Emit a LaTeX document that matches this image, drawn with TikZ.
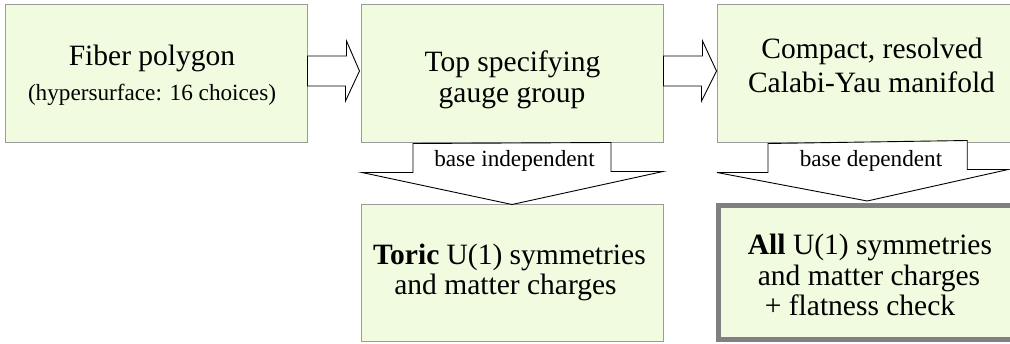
\documentclass[tikz,border=0pt]{standalone}
\usepackage{fontspec}
\setmainfont{Liberation Serif}
\usetikzlibrary{calc}
\definecolor{boxfill}{RGB}{240,251,224}
\definecolor{boxline}{RGB}{155,155,155}
\definecolor{thickline}{RGB}{128,128,128}
\begin{document}
\begin{tikzpicture}[x=1pt,y=-1pt,
  box/.style={draw=boxline, fill=boxfill, line width=1pt, inner sep=0pt},
  bigarrow/.style={draw=black, fill=white, line width=0.9pt, line join=miter},
  maintext/.style={font=\fontsize{29.5}{31}\selectfont, inner sep=0pt, anchor=base},
  smalltext/.style={font=\fontsize{23.2}{25}\selectfont, inner sep=0pt, anchor=base}]
\useasboundingbox (0,0) rectangle (1010,344);
\clip (0,0) rectangle (1010,344);
% boxes
\node[box, minimum width=302pt, minimum height=138pt] (b1) at (156,74) {};
\node[box, minimum width=302pt, minimum height=138pt] (b2) at (512,74) {};
\node[box, minimum width=302pt, minimum height=138pt] (b3) at (868,74) {};
\node[box, minimum width=302pt, minimum height=137pt] (b4) at (512,273.5) {};
% block arrows
\draw[bigarrow] ($(b1.east)+(0,-18)$) -- ++(39,0) -- ++(0,-15) -- ($(b2.west)+(-1,-3)$)
  -- ++(-14,30) -- ++(0,-15) -- ($(b1.east)+(0,12)$) -- cycle;
\draw[bigarrow] ($(b2.east)+(0,-18)$) -- ++(39,0) -- ++(0,-15) -- ($(b3.west)+(0,-3)$)
  -- ++(-15,30) -- ++(0,-15) -- ($(b2.east)+(0,12)$) -- cycle;
\draw[bigarrow] ($(b2.south)+(-99,0)$) -- ++(0,29) -- ++(-51,0) -- (b4.north)
  -- ++(151,-33) -- ++(-52,0) -- ++(0,-29) -- cycle;
\node[box, draw=thickline, line width=5pt, minimum width=299.5pt, minimum height=134pt] (b5) at (868.25,272.5) {};
\draw[bigarrow] ($(b3.south)+(-100,0)$) -- ++(0,29) -- ++(-51,0) -- ($(b5.north)+(-1,-2)$)
  -- ++(141,-31.5) -- ++(-41,0) -- ++(0,-29) -- cycle;
% labels
\node[smalltext] (l1) at (514.5,167) {base independent};
\node[smalltext] (l2) at (871,167) {base dependent};
% texts
\node[maintext] (t1a) at (152,66) {Fiber polygon};
\node[smalltext] (t1b) at (152,101) {(hypersurface: 16 choices)};
\node[maintext] (t2a) at (512.5,72) {Top specifying};
\node[maintext] (t2b) at (512,103) {gauge group};
\node[maintext] (t3a) at (872,59) {Compact, resolved};
\node[maintext] (t3b) at (871.5,93) {Calabi-Yau manifold};
\node[maintext] (t4a) at (509.5,265) {\textbf{Toric} U(1) symmetries};
\node[maintext] (t4b) at (505.5,295) {and matter charges};
\node[maintext] (t5a) at (870,255) {\textbf{All} U(1) symmetries};
\node[maintext] (t5b) at (869,286) {and matter charges};
\node[maintext] (t5c) at (860,316) {+ flatness check};
\end{tikzpicture}
\end{document}
